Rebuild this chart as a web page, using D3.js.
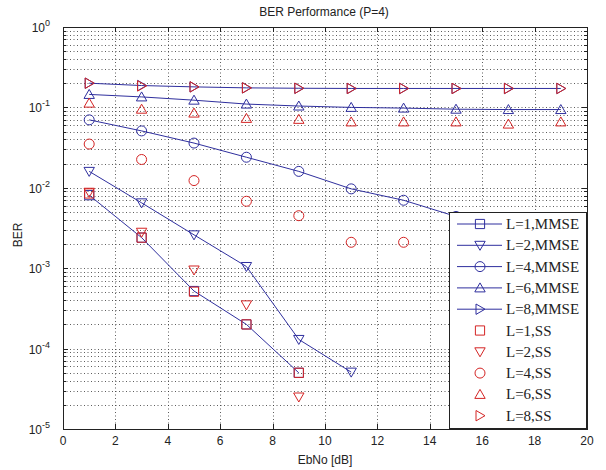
<!DOCTYPE html>
<html>
<head>
<meta charset="utf-8">
<script src="https://cdn.jsdelivr.net/npm/d3@7"></script>
<style>
body { margin: 0; background: #fff; }
svg text { font-family: "Liberation Sans", Arial, sans-serif; }
</style>
</head>
<body>
<svg id="chart" width="606" height="470"></svg>
<script>
// EbNo points
var ebno = [1, 3, 5, 7, 9, 11, 13, 15, 17, 19];

// MMSE curves (lines + markers)
var mmse_L1 = [0.0081, 0.0024, 0.00052, 0.0002, 0.00005];
var mmse_L2 = [0.016, 0.0065, 0.0026, 0.00105, 0.00013, 0.000051];
var mmse_L4 = [0.07, 0.051, 0.036, 0.024, 0.016, 0.0097, 0.007, 0.0044, 0.0031, 0.0022];
var mmse_L6 = [0.145, 0.135, 0.123, 0.11, 0.104, 0.1, 0.098, 0.095, 0.094, 0.094];
var mmse_L8 = [0.2, 0.187, 0.18, 0.175, 0.173, 0.172, 0.172, 0.172, 0.172, 0.172];

// SS points (markers only)
var ss_L1 = [0.0085, 0.0024, 0.00051, 0.0002, 0.00005];
var ss_L2 = [0.0088, 0.0028, 0.00095, 0.00035, 0.000025];
var ss_L4 = [0.035, 0.0225, 0.0123, 0.0068, 0.0045, 0.0021, 0.0021];
var ss_L6 = [0.113, 0.095, 0.085, 0.073, 0.071, 0.066, 0.066, 0.066, 0.062, 0.066];
var ss_L8 = [0.2, 0.185, 0.18, 0.175, 0.173, 0.172, 0.172, 0.172, 0.172, 0.172];

var xTicks = [0, 2, 4, 6, 8, 10, 12, 14, 16, 18, 20];
var yTicks = [1e-5, 1e-4, 1e-3, 1e-2, 1e-1, 1];

var blue = "#2f2f9e";
var red = "#d42424";

var mmseSeries = [
    { name: "L=1,MMSE", values: mmse_L1, shape: "square" },
    { name: "L=2,MMSE", values: mmse_L2, shape: "down" },
    { name: "L=4,MMSE", values: mmse_L4, shape: "circle" },
    { name: "L=6,MMSE", values: mmse_L6, shape: "up" },
    { name: "L=8,MMSE", values: mmse_L8, shape: "right" }
];
var ssSeries = [
    { name: "L=1,SS", values: ss_L1, shape: "square" },
    { name: "L=2,SS", values: ss_L2, shape: "down" },
    { name: "L=4,SS", values: ss_L4, shape: "circle" },
    { name: "L=6,SS", values: ss_L6, shape: "up" },
    { name: "L=8,SS", values: ss_L8, shape: "right" }
];

var plotLeft = 63, plotRight = 587, plotTop = 27, plotBottom = 429;

var svg = d3.select("#chart");
var x = d3.scaleLinear().domain([0, 20]).range([plotLeft, plotRight]);
var y = d3.scaleLog().domain([1e-5, 1]).range([plotBottom, plotTop]);

// marker path centred on 0,0
function markerPath(shape) {
    var s = 4.6;
    switch (shape) {
        case "square":
            return "M" + -s + "," + -s + "H" + s + "V" + s + "H" + -s + "Z";
        case "down":
            return "M-5.2,-4H5.2L0,5Z";
        case "up":
            return "M-5.2,4H5.2L0,-5Z";
        case "right":
            return "M-4,-5.2V5.2L5,0Z";
        case "circle":
            return "M5,0A5,5 0 1,1 -5,0A5,5 0 1,1 5,0Z";
    }
}

// grid
var minorY = [];
for (var e = -5; e < 0; e++) {
    for (var k = 1; k <= 9; k++) minorY.push(k * Math.pow(10, e));
}
var grid = svg.append("g")
    .attr("stroke", "#333")
    .attr("stroke-width", 0.8)
    .attr("stroke-dasharray", "1,2.5");
grid.selectAll(".gy").data(minorY.filter(v => v > 1e-5)).enter().append("line")
    .attr("x1", plotLeft).attr("x2", plotRight)
    .attr("y1", d => Math.round(y(d)) + 0.5).attr("y2", d => Math.round(y(d)) + 0.5);
grid.selectAll(".gx").data(xTicks.slice(1, -1)).enter().append("line")
    .attr("y1", plotTop).attr("y2", plotBottom)
    .attr("x1", d => Math.round(x(d)) + 0.5).attr("x2", d => Math.round(x(d)) + 0.5);

// axes box
svg.append("rect")
    .attr("x", plotLeft + 0.5).attr("y", plotTop + 0.5)
    .attr("width", plotRight - plotLeft).attr("height", plotBottom - plotTop)
    .attr("fill", "none").attr("stroke", "#222").attr("stroke-width", 1);

// tick marks inside
var ticks = svg.append("g").attr("stroke", "#222").attr("stroke-width", 1);
xTicks.forEach(function (t) {
    var px = Math.round(x(t)) + 0.5;
    ticks.append("line").attr("x1", px).attr("x2", px).attr("y1", plotBottom).attr("y2", plotBottom - 5);
    ticks.append("line").attr("x1", px).attr("x2", px).attr("y1", plotTop).attr("y2", plotTop + 5);
});
minorY.concat([1]).forEach(function (t) {
    var py = Math.round(y(t)) + 0.5;
    var len = Math.abs(Math.log10(t) - Math.round(Math.log10(t))) < 1e-9 ? 5 : 3;
    ticks.append("line").attr("x1", plotLeft).attr("x2", plotLeft + len).attr("y1", py).attr("y2", py);
    ticks.append("line").attr("x1", plotRight - len).attr("x2", plotRight).attr("y1", py).attr("y2", py);
});

// tick labels
svg.selectAll(".xl").data(xTicks).enter().append("text")
    .attr("x", d => x(d)).attr("y", 445)
    .attr("text-anchor", "middle").attr("font-size", 12).attr("fill", "#222")
    .text(d => d);
var yl = svg.selectAll(".yl").data(yTicks).enter().append("text")
    .attr("x", 50).attr("y", d => y(d) + 5)
    .attr("text-anchor", "end").attr("font-size", 12).attr("fill", "#222");
yl.append("tspan").text("10");
yl.append("tspan").attr("dy", -6).attr("font-size", 9).text(d => Math.round(Math.log10(d)));

// title and axis labels
svg.append("text").attr("x", 324).attr("y", 16).attr("text-anchor", "middle")
    .attr("font-size", 12).attr("fill", "#222").text("BER Performance (P=4)");
svg.append("text").attr("x", 325).attr("y", 464).attr("text-anchor", "middle")
    .attr("font-size", 12).attr("fill", "#222").text("EbNo [dB]");
svg.append("text").attr("transform", "translate(22,235) rotate(-90)").attr("text-anchor", "middle")
    .attr("font-size", 12).attr("fill", "#222").text("BER");

// MMSE lines and markers
var line = d3.line().x((d, i) => x(ebno[i])).y(d => y(d));
mmseSeries.forEach(function (s) {
    svg.append("path").datum(s.values)
        .attr("d", line).attr("fill", "none").attr("stroke", blue).attr("stroke-width", 1);
    svg.selectAll(null).data(s.values).enter().append("path")
        .attr("transform", (d, i) => "translate(" + x(ebno[i]) + "," + y(d) + ")")
        .attr("d", markerPath(s.shape))
        .attr("fill", "none").attr("stroke", blue).attr("stroke-width", 1);
});

// SS markers
ssSeries.forEach(function (s) {
    svg.selectAll(null).data(s.values).enter().append("path")
        .attr("transform", (d, i) => "translate(" + x(ebno[i]) + "," + y(d) + ")")
        .attr("d", markerPath(s.shape))
        .attr("fill", "none").attr("stroke", red).attr("stroke-width", 1);
});

// legend
var lg = svg.append("g");
lg.append("rect").attr("x", 449.5).attr("y", 212.5).attr("width", 137).attr("height", 216)
    .attr("fill", "#fff").attr("stroke", "#222").attr("stroke-width", 1);
var allSeries = mmseSeries.map(s => ({ s: s, c: blue, line: true }))
    .concat(ssSeries.map(s => ({ s: s, c: red, line: false })));
allSeries.forEach(function (item, i) {
    var cy = 224 + i * 21.3;
    if (item.line) {
        lg.append("line").attr("x1", 457).attr("x2", 502).attr("y1", cy).attr("y2", cy)
            .attr("stroke", item.c).attr("stroke-width", 1);
    }
    lg.append("path").attr("transform", "translate(480," + cy + ")")
        .attr("d", markerPath(item.s.shape))
        .attr("fill", "none").attr("stroke", item.c).attr("stroke-width", 1);
    lg.append("text").attr("x", 506).attr("y", cy + 5)
        .style("font-family", "'Liberation Serif', 'Times New Roman', serif")
        .attr("font-size", 15).attr("fill", "#222").text(item.s.name);
});
</script>
</body>
</html>
